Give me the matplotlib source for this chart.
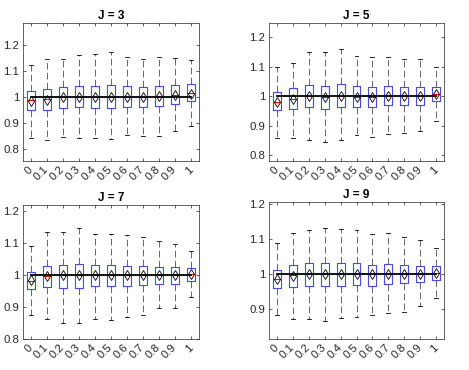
import matplotlib.pyplot as plt
from matplotlib.transforms import ScaledTranslation

plt.rcParams['font.family'] = ['Liberation Sans', 'DejaVu Sans']

labels = ['0', '0.1', '0.2', '0.3', '0.4', '0.5', '0.6', '0.7', '0.8', '0.9', '1']
titles = ['J = 3', 'J = 5', 'J = 7', 'J = 9']

# one row per panel (J = 3, 5, 7, 9)
whisk_lo = [
    [0.844, 0.836, 0.845, 0.844, 0.844, 0.837, 0.854, 0.851, 0.851, 0.869, 0.888],
    [0.859, 0.857, 0.853, 0.845, 0.853, 0.870, 0.862, 0.873, 0.876, 0.882, 0.915],
    [0.876, 0.863, 0.850, 0.849, 0.863, 0.861, 0.869, 0.876, 0.896, 0.896, 0.931],
    [0.883, 0.873, 0.873, 0.866, 0.875, 0.878, 0.883, 0.891, 0.894, 0.911, 0.932],
]
q1 = [
    [0.949, 0.951, 0.959, 0.960, 0.956, 0.956, 0.960, 0.960, 0.964, 0.972, 0.983],
    [0.952, 0.958, 0.963, 0.957, 0.963, 0.964, 0.964, 0.969, 0.969, 0.969, 0.984],
    [0.956, 0.963, 0.959, 0.961, 0.965, 0.967, 0.967, 0.969, 0.971, 0.973, 0.983],
    [0.960, 0.964, 0.968, 0.967, 0.967, 0.971, 0.967, 0.972, 0.974, 0.977, 0.985],
]
med = [
    [0.988, 0.992, 0.999, 1.001, 0.999, 1.001, 1.001, 1.000, 1.004, 1.006, 1.014],
    [0.981, 0.992, 1.001, 0.997, 1.001, 0.999, 0.997, 1.002, 1.001, 1.000, 1.007],
    [0.983, 0.998, 0.999, 1.000, 1.000, 1.000, 1.000, 1.000, 1.000, 1.000, 1.004],
    [0.986, 0.997, 1.000, 1.000, 1.000, 1.001, 1.000, 1.002, 1.002, 1.001, 1.003],
]
q3 = [
    [1.022, 1.029, 1.037, 1.041, 1.041, 1.045, 1.041, 1.037, 1.041, 1.045, 1.049],
    [1.014, 1.027, 1.039, 1.034, 1.043, 1.034, 1.032, 1.036, 1.032, 1.031, 1.032],
    [1.011, 1.030, 1.033, 1.036, 1.032, 1.032, 1.030, 1.030, 1.027, 1.025, 1.021],
    [1.011, 1.027, 1.033, 1.033, 1.033, 1.033, 1.028, 1.030, 1.028, 1.025, 1.023],
]
whisk_hi = [
    [1.122, 1.147, 1.147, 1.160, 1.163, 1.173, 1.155, 1.144, 1.154, 1.151, 1.141],
    [1.098, 1.114, 1.149, 1.150, 1.160, 1.138, 1.133, 1.135, 1.125, 1.126, 1.101],
    [1.093, 1.135, 1.135, 1.147, 1.130, 1.130, 1.126, 1.119, 1.107, 1.098, 1.075],
    [1.088, 1.118, 1.127, 1.132, 1.128, 1.125, 1.114, 1.117, 1.106, 1.097, 1.074],
]
means = [
    [0.983, 0.989, 0.998, 1.001, 0.999, 1.000, 1.001, 1.000, 1.003, 1.006, 1.013],
    [0.980, 0.989, 1.000, 0.997, 1.001, 0.999, 0.998, 1.002, 1.001, 1.000, 1.007],
    [0.984, 0.997, 0.999, 1.000, 1.001, 1.001, 1.000, 1.000, 1.000, 1.000, 1.004],
    [0.987, 0.996, 1.000, 1.000, 1.000, 1.000, 1.000, 1.001, 1.001, 1.000, 1.003],
]
ref_value = 1.0

ylims = [(0.754, 1.284), (0.78, 1.249), (0.8, 1.22), (0.816, 1.206)]
yticks = [[0.8, 0.9, 1, 1.1, 1.2], [0.8, 0.9, 1, 1.1, 1.2],
          [0.8, 0.9, 1, 1.1, 1.2], [0.9, 1, 1.1, 1.2]]
# axes rectangles in figure fractions
rects = [
    [0.049, 0.5649, 0.3753, 0.3730],
    [0.5736, 0.5649, 0.3731, 0.3730],
    [0.049, 0.0838, 0.3753, 0.3622],
    [0.5736, 0.0838, 0.3731, 0.3703],
]

fig = plt.figure(figsize=(4.69, 3.70), dpi=100)
txt = '#262626'
pos = list(range(1, len(labels) + 1))

for k in range(4):
    ax = fig.add_axes(rects[k])
    stats = []
    for i in range(len(labels)):
        stats.append(dict(med=med[k][i], q1=q1[k][i], q3=q3[k][i],
                          whislo=whisk_lo[k][i], whishi=whisk_hi[k][i],
                          mean=means[k][i], fliers=[]))
    ax.bxp(stats, positions=pos, widths=0.5, capwidths=0.25, showmeans=True,
           boxprops=dict(color='#4848ff', lw=0.8),
           whiskerprops=dict(color='0.3', lw=0.6, linestyle=(0, (8, 4))),
           capprops=dict(color='k', lw=0.6),
           medianprops=dict(color='red', lw=0.8, zorder=2.2),
           meanprops=dict(marker='d', mfc='none', mec='k', mew=0.6, ms=4.8, zorder=4))
    ax.plot(pos, [ref_value] * len(pos), color='k', lw=1.3, zorder=3)

    ax.set_xlim(0.5, 11.5)
    ax.set_ylim(*ylims[k])
    ax.set_yticks(yticks[k])
    ax.set_yticklabels(['%g' % v for v in yticks[k]])
    ax.set_xticks(pos)
    ax.set_xticklabels(labels, rotation=45, ha='right', va='center',
                       rotation_mode='anchor')
    for lab in ax.get_xticklabels():
        lab.set_transform(lab.get_transform() + ScaledTranslation(0.04, 0, fig.dpi_scale_trans))
    ax.tick_params(direction='in', top=True, right=True, length=2.5, width=0.5,
                   color='0.15', labelcolor=txt, labelsize=8.2)
    ax.tick_params(axis='y', pad=2.8)
    ax.tick_params(axis='x', pad=5)
    for s in ax.spines.values():
        s.set_color('0.15')
        s.set_linewidth(0.5)
    ax.set_title(titles[k], fontsize=8.5, fontweight='bold', color='k', pad=3)

fig.savefig('out.png', dpi=100)
